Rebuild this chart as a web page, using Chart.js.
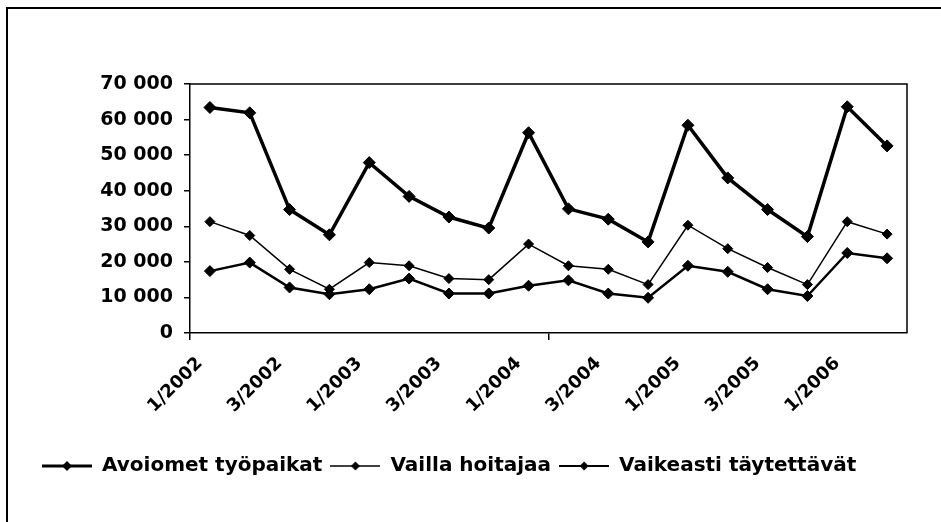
<!DOCTYPE html>
<html lang="fi">
<head>
    <meta charset="UTF-8">
    <title>Avoimet työpaikat</title>
    <script src="https://cdn.jsdelivr.net/npm/chart.js"></script>
    <style>
        html, body { margin: 0; padding: 0; background: #fff; }
        #wrap { width: 941px; height: 522px; position: relative; }
    </style>
</head>
<body>
    <div id="wrap"><canvas id="myChart" width="941" height="522"></canvas></div>

    <script>
// neljännesvuodet 1/2002 - 2/2006
const categories = [
    '1/2002', '2/2002', '3/2002', '4/2002',
    '1/2003', '2/2003', '3/2003', '4/2003',
    '1/2004', '2/2004', '3/2004', '4/2004',
    '1/2005', '2/2005', '3/2005', '4/2005',
    '1/2006', '2/2006'
];
const seriesNames = ['Avoiomet työpaikat', 'Vailla hoitajaa', 'Vaikeasti täytettävät'];
const avoimet = [63400, 61900, 34700, 27600, 47900, 38400, 32600, 29500, 56300, 34900, 32000, 25600, 58400, 43600, 34700, 27100, 63600, 52600];
const vaillaHoitajaa = [31300, 27400, 17900, 12300, 19800, 18900, 15300, 15000, 25000, 18900, 17900, 13600, 30300, 23700, 18400, 13600, 31300, 27800];
const vaikeasti = [17400, 19800, 12800, 10900, 12300, 15300, 11100, 11100, 13300, 14800, 11100, 9900, 18900, 17200, 12300, 10400, 22500, 21000];
const yMin = 0, yMax = 70000, yStep = 10000;

const FONT = 'DejaVu Sans';
const lineWidths = [3.5, 1.5, 2.5];
const pointRadii = [6, 5, 5.5];

// legendan merkit: viiva + vinoneliö
function makeMarker(lw, r) {
    const c = document.createElement('canvas');
    c.width = 50; c.height = 16;
    const g = c.getContext('2d');
    g.strokeStyle = '#000';
    g.lineWidth = lw;
    g.beginPath(); g.moveTo(0, 8); g.lineTo(50, 8); g.stroke();
    g.fillStyle = '#000';
    g.beginPath();
    g.moveTo(25, 8 - r); g.lineTo(25 + r, 8); g.lineTo(25, 8 + r); g.lineTo(25 - r, 8);
    g.closePath(); g.fill();
    return c;
}
const markers = [makeMarker(3, 5), makeMarker(1.3, 4.5), makeMarker(2, 4.5)];

function fmt(v) {
    return String(v).replace(/\B(?=(\d{3})+(?!\d))/g, ' ');
}

// kehykset: piirtoalueen ylä- ja oikea reuna sekä ulkokehys
const framePlugin = {
    id: 'frame',
    afterDraw(chart) {
        const ctx = chart.ctx, a = chart.chartArea;
        ctx.save();
        ctx.strokeStyle = '#000';
        ctx.lineWidth = 1.5;
        ctx.beginPath();
        ctx.moveTo(a.left, a.top); ctx.lineTo(a.right, a.top); ctx.lineTo(a.right, a.bottom);
        ctx.stroke();
        ctx.lineWidth = 2;
        ctx.beginPath();
        ctx.moveTo(7, 522); ctx.lineTo(7, 8); ctx.lineTo(941, 8);
        ctx.stroke();
        ctx.restore();
    }
};

const data = [avoimet, vaillaHoitajaa, vaikeasti];
var ctx = document.getElementById('myChart').getContext('2d');
var myChart = new Chart(ctx, {
    type: 'line',
    data: {
        labels: categories,
        datasets: data.map((d, i) => ({
            label: seriesNames[i],
            data: d,
            borderColor: '#000',
            backgroundColor: '#000',
            borderWidth: lineWidths[i],
            pointStyle: 'rectRot',
            pointRadius: pointRadii[i],
            pointBackgroundColor: '#000',
            pointBorderColor: '#000',
            pointBorderWidth: 1,
            tension: 0,
            fill: false
        }))
    },
    options: {
        responsive: false,
        animation: false,
        layout: { padding: { left: 34, right: 34, top: 84, bottom: 36 } },
        plugins: {
            tooltip: { enabled: false },
            legend: {
                position: 'bottom',
                align: 'start',
                labels: {
                    usePointStyle: true,
                    pointStyleWidth: 50,
                    boxHeight: 16,
                    padding: 8,
                    color: '#000',
                    font: { family: FONT, size: 20, weight: 'bold' },
                    generateLabels: chart => chart.data.datasets.map((ds, i) => ({
                        text: ds.label,
                        pointStyle: markers[i],
                        fillStyle: '#000',
                        strokeStyle: '#000',
                        lineWidth: 0,
                        hidden: false,
                        datasetIndex: i
                    }))
                }
            }
        },
        scales: {
            x: {
                offset: true,
                afterFit: s => { s.height = 115; },
                grid: {
                    offset: true,
                    drawOnChartArea: false,
                    tickLength: 7,
                    color: c => (c.index % 9 === 0 ? '#000' : 'rgba(0,0,0,0)'),
                    lineWidth: 1.5
                },
                border: { display: true, color: '#000', width: 1.5 },
                ticks: {
                    autoSkip: false,
                    minRotation: 45,
                    maxRotation: 45,
                    padding: 13,
                    labelOffset: -10,
                    color: '#000',
                    font: { family: FONT, size: 18, weight: 'bold' },
                    callback: (v, i) => (i % 2 === 0 ? categories[i] : '')
                }
            },
            y: {
                min: yMin,
                max: yMax,
                afterFit: s => { s.width = 156; },
                grid: { drawOnChartArea: false, tickLength: 6, color: '#000', lineWidth: 1.5 },
                border: { display: true, color: '#000', width: 1.5 },
                ticks: {
                    stepSize: yStep,
                    padding: 11,
                    color: '#000',
                    font: { family: FONT, size: 19, weight: 'bold' },
                    callback: v => fmt(v)
                }
            }
        }
    },
    plugins: [framePlugin]
});
    </script>
</body>
</html>
